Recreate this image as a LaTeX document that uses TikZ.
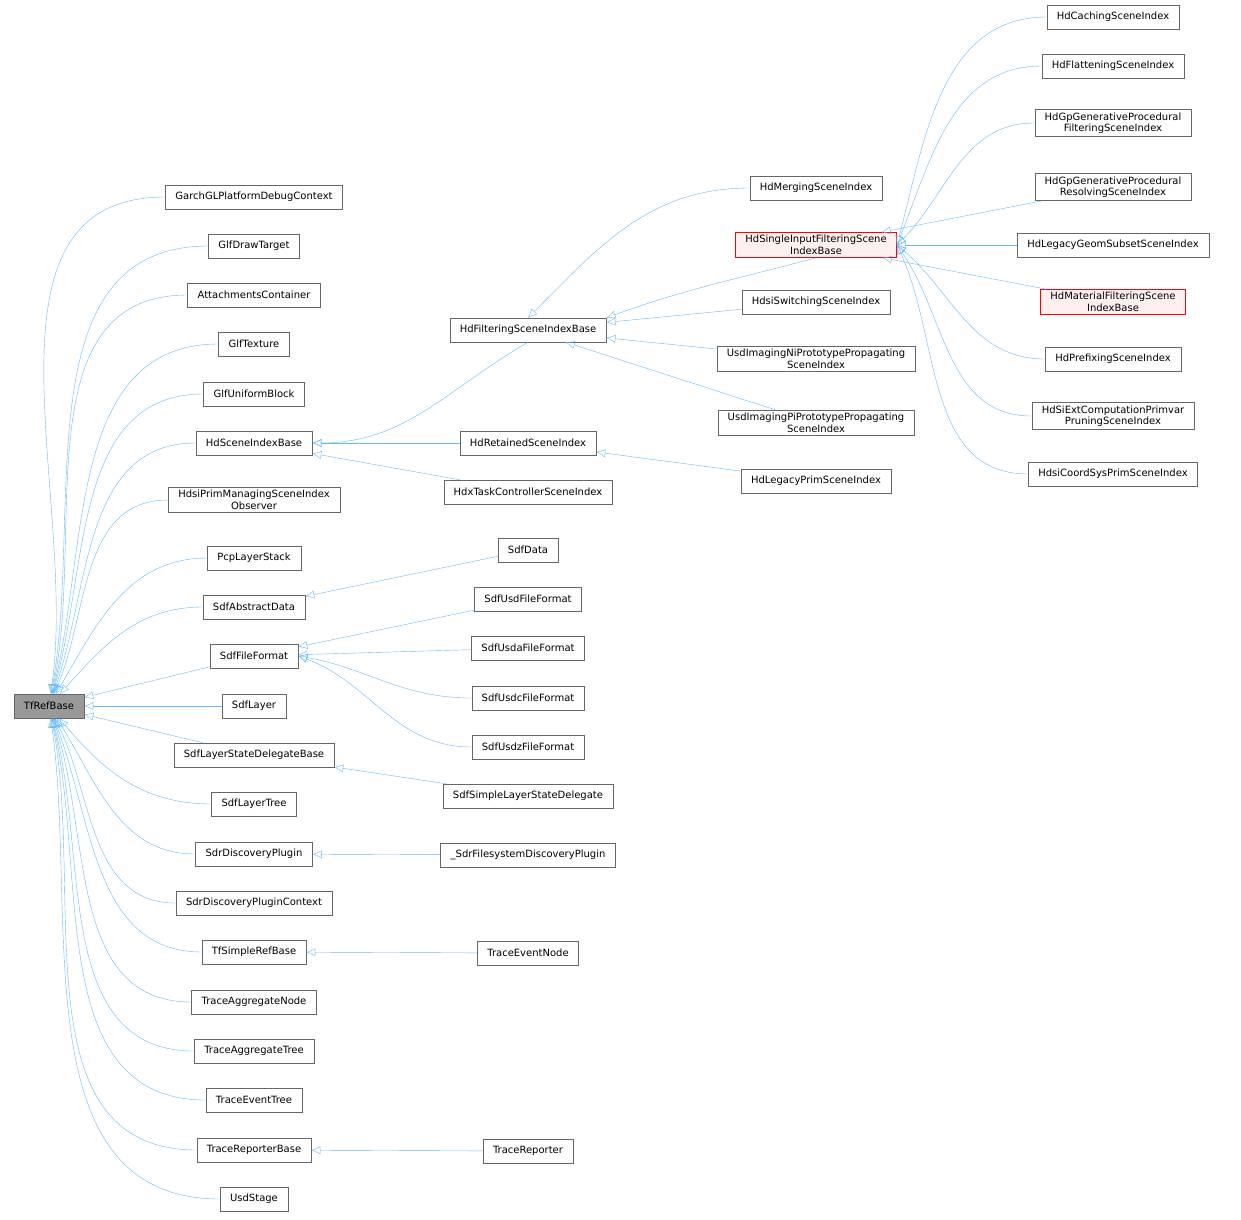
\documentclass[tikz,border=0pt]{standalone}
\usepackage{fontspec}
\setmainfont{DejaVu Sans}
\usetikzlibrary{arrows.meta}
\definecolor{edgeblue}{HTML}{63B8FF}
\definecolor{boxgrey}{HTML}{666666}
\definecolor{rootgrey}{HTML}{999999}
\definecolor{hlred}{HTML}{FF0000}
\definecolor{hlfill}{HTML}{FFF0F0}
\begin{document}
\begin{tikzpicture}[x=1pt,y=-1pt,
    cls/.style={draw=boxgrey, fill=white, inner xsep=10pt, inner ysep=3pt, minimum height=24pt, align=center, font=\fontsize{10}{11.5}\selectfont},
    hl/.style={cls, draw=hlred, fill=hlfill},
    edge/.style={draw=edgeblue, {Latex[open,length=9pt,width=8pt]}-}]

    \useasboundingbox (0,0) rectangle (1241,1219);

    % root
    \node[cls,fill=rootgrey] (TfRefBase) at (49,706) {TfRefBase};

    % first level
    \node[cls] (Garch) at (254,197) {GarchGLPlatformDebugContext};
    \node[cls] (GlfDrawTarget) at (254,246) {GlfDrawTarget};
    \node[cls] (Attachments) at (254,295) {AttachmentsContainer};
    \node[cls] (GlfTexture) at (254,344) {GlfTexture};
    \node[cls] (GlfUniformBlock) at (254,394) {GlfUniformBlock};
    \node[cls] (HdSceneIndexBase) at (254,443) {HdSceneIndexBase};
    \node[cls] (HdsiPrimObserver) at (254,500) {HdsiPrimManagingSceneIndex\\Observer};
    \node[cls] (PcpLayerStack) at (254,558) {PcpLayerStack};
    \node[cls] (SdfAbstractData) at (254,607) {SdfAbstractData};
    \node[cls] (SdfFileFormat) at (254,656) {SdfFileFormat};
    \node[cls] (SdfLayer) at (254,706) {SdfLayer};
    \node[cls] (SdfLayerStateDelegateBase) at (254,755) {SdfLayerStateDelegateBase};
    \node[cls] (SdfLayerTree) at (254,804) {SdfLayerTree};
    \node[cls] (SdrDiscoveryPlugin) at (254,854) {SdrDiscoveryPlugin};
    \node[cls] (SdrDiscoveryPluginContext) at (254,903) {SdrDiscoveryPluginContext};
    \node[cls] (TfSimpleRefBase) at (254,952) {TfSimpleRefBase};
    \node[cls] (TraceAggregateNode) at (254,1002) {TraceAggregateNode};
    \node[cls] (TraceAggregateTree) at (254,1051) {TraceAggregateTree};
    \node[cls] (TraceEventTree) at (254,1100) {TraceEventTree};
    \node[cls] (TraceReporterBase) at (254,1150) {TraceReporterBase};
    \node[cls] (UsdStage) at (254,1199) {UsdStage};

    % second level
    \node[cls] (HdFilteringSceneIndexBase) at (528,330) {HdFilteringSceneIndexBase};
    \node[cls] (HdRetainedSceneIndex) at (528,443) {HdRetainedSceneIndex};
    \node[cls] (HdxTaskController) at (528,492) {HdxTaskControllerSceneIndex};
    \node[cls] (SdfData) at (528,550) {SdfData};
    \node[cls] (SdfUsdFileFormat) at (528,599) {SdfUsdFileFormat};
    \node[cls] (SdfUsdaFileFormat) at (528,648) {SdfUsdaFileFormat};
    \node[cls] (SdfUsdcFileFormat) at (528,698) {SdfUsdcFileFormat};
    \node[cls] (SdfUsdzFileFormat) at (528,747) {SdfUsdzFileFormat};
    \node[cls] (SdfSimpleDelegate) at (528,796) {SdfSimpleLayerStateDelegate};
    \node[cls] (SdrFsDiscovery) at (528,855) {\_SdrFilesystemDiscoveryPlugin};
    \node[cls] (TraceEventNode) at (528,953) {TraceEventNode};
    \node[cls] (TraceReporter) at (528,1151) {TraceReporter};

    % third level
    \node[cls] (HdMerging) at (816,188) {HdMergingSceneIndex};
    \node[hl] (HdSingleInput) at (816,245) {HdSingleInputFilteringScene\\IndexBase};
    \node[cls] (HdsiSwitching) at (816,302) {HdsiSwitchingSceneIndex};
    \node[cls] (UsdNiProto) at (816,359) {UsdImagingNiPrototypePropagating\\SceneIndex};
    \node[cls] (UsdPiProto) at (816,423) {UsdImagingPiPrototypePropagating\\SceneIndex};
    \node[cls] (HdLegacyPrim) at (816,481) {HdLegacyPrimSceneIndex};

    % fourth level
    \node[cls] (HdCaching) at (1113,17) {HdCachingSceneIndex};
    \node[cls] (HdFlattening) at (1113,66) {HdFlatteningSceneIndex};
    \node[cls] (HdGpFiltering) at (1113,123) {HdGpGenerativeProcedural\\FilteringSceneIndex};
    \node[cls] (HdGpResolving) at (1113,187) {HdGpGenerativeProcedural\\ResolvingSceneIndex};
    \node[cls] (HdLegacyGeomSubset) at (1113,245) {HdLegacyGeomSubsetSceneIndex};
    \node[hl] (HdMaterialFiltering) at (1113,302) {HdMaterialFilteringScene\\IndexBase};
    \node[cls] (HdPrefixing) at (1113,359) {HdPrefixingSceneIndex};
    \node[cls] (HdSiExtComp) at (1113,416) {HdSiExtComputationPrimvar\\PruningSceneIndex};
    \node[cls] (HdsiCoordSys) at (1113,474) {HdsiCoordSysPrimSceneIndex};

    % edges into the root
    \foreach \child/\ang in {Garch/82,GlfDrawTarget/80,Attachments/78,GlfTexture/76,GlfUniformBlock/74,HdSceneIndexBase/71,HdsiPrimObserver/67,PcpLayerStack/60,SdfAbstractData/48,SdrDiscoveryPlugin/-58,SdfLayerTree/-50,SdrDiscoveryPluginContext/-64,TfSimpleRefBase/-69,TraceAggregateNode/-72,TraceAggregateTree/-75,TraceEventTree/-77,TraceReporterBase/-79,UsdStage/-82}
        \draw[edge] (TfRefBase) to[out=\ang,in=180] (\child.west);
    \foreach \child in {SdfFileFormat,SdfLayer,SdfLayerStateDelegateBase}
        \draw[edge] (TfRefBase) -- (\child);

    % second level edges
    \draw[edge] (HdSceneIndexBase.east) to[out=0,in=210] (HdFilteringSceneIndexBase.south);
    \draw[edge] (HdSceneIndexBase) -- (HdRetainedSceneIndex);
    \draw[edge] (HdSceneIndexBase) -- (HdxTaskController);
    \draw[edge] (SdfAbstractData) -- (SdfData);
    \draw[edge] (SdfFileFormat) -- (SdfUsdFileFormat);
    \draw[edge] (SdfFileFormat) -- (SdfUsdaFileFormat);
    \draw[edge] (SdfFileFormat.east) to[out=-10,in=180] (SdfUsdcFileFormat.west);
    \draw[edge] (SdfFileFormat.east) to[out=-20,in=180] (SdfUsdzFileFormat.west);
    \draw[edge] (SdfLayerStateDelegateBase) -- (SdfSimpleDelegate);
    \draw[edge] (SdrDiscoveryPlugin) -- (SdrFsDiscovery);
    \draw[edge] (TfSimpleRefBase) -- (TraceEventNode);
    \draw[edge] (TraceReporterBase) -- (TraceReporter);

    % third level edges
    \draw[edge] (HdFilteringSceneIndexBase.north) to[out=45,in=180] (HdMerging.west);
    \draw[edge] (HdFilteringSceneIndexBase.north east) to[out=20,in=195] (HdSingleInput.south);
    \draw[edge] (HdFilteringSceneIndexBase) -- (HdsiSwitching);
    \draw[edge] (HdFilteringSceneIndexBase) -- (UsdNiProto);
    \draw[edge] (HdFilteringSceneIndexBase) -- (UsdPiProto);
    \draw[edge] (HdRetainedSceneIndex) -- (HdLegacyPrim);

    % fourth level edges
    \foreach \child/\ang in {HdCaching/75,HdFlattening/68,HdGpFiltering/45,HdSiExtComp/-55,HdPrefixing/-40,HdsiCoordSys/-65}
        \draw[edge] (HdSingleInput.east) to[out=\ang,in=180] (\child.west);
    \foreach \child in {HdGpResolving,HdLegacyGeomSubset,HdMaterialFiltering}
        \draw[edge] (HdSingleInput) -- (\child);
\end{tikzpicture}
\end{document}
